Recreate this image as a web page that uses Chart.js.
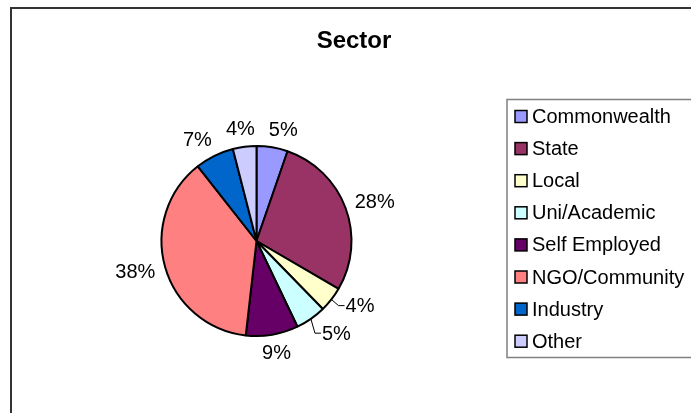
<!DOCTYPE html>
<html>
<head>
<meta charset="utf-8">
<script src="https://cdn.jsdelivr.net/npm/chart.js@4"></script>
<style>
  html, body { margin: 0; padding: 0; background: #fff; }
  canvas { display: block; }
</style>
</head>
<body>
<canvas id="sectorChart" width="691" height="413"></canvas>
<script>
/*************************************************
 * DATA
 *************************************************/
const chartTitle = "Sector";

const categories = [
  "Commonwealth",
  "State",
  "Local",
  "Uni/Academic",
  "Self Employed",
  "NGO/Community",
  "Industry",
  "Other"
];

// share of respondents, %
const shares = [5.3, 28.1, 4.3, 5.2, 8.9, 37.6, 6.6, 4.0];

const sliceColors = [
  "#9999ff",
  "#993366",
  "#ffffcc",
  "#ccffff",
  "#660066",
  "#ff8080",
  "#0066cc",
  "#ccccff"
];

const FONT = "'Liberation Sans', Arial, sans-serif";


/*************************************************
 * FRAME + TITLE
 *************************************************/
const framePlugin = {
  id: "frame",
  beforeDraw(chart) {
    const ctx = chart.ctx;
    ctx.save();
    ctx.fillStyle = "#fff";
    ctx.fillRect(0, 0, chart.width, chart.height);

    // outer chart border (right/bottom run off the picture)
    ctx.strokeStyle = "#333";
    ctx.lineWidth = 2;
    ctx.beginPath();
    ctx.moveTo(11, chart.height + 5);
    ctx.lineTo(11, 8);
    ctx.lineTo(chart.width + 5, 8);
    ctx.stroke();

    ctx.fillStyle = "#000";
    ctx.font = "bold 24px " + FONT;
    ctx.textAlign = "center";
    ctx.textBaseline = "alphabetic";
    ctx.fillText(chartTitle, 354, 48);
    ctx.restore();
  }
};


/*************************************************
 * LEGEND (boxed, right side)
 *************************************************/
const boxLegendPlugin = {
  id: "boxLegend",
  afterDraw(chart) {
    const ctx = chart.ctx;
    const labels = chart.data.labels;
    const colors = chart.data.datasets[0].backgroundColor;
    ctx.save();

    ctx.strokeStyle = "#808080";
    ctx.lineWidth = 1.5;
    ctx.strokeRect(507, 99.5, 220, 258);

    ctx.font = "20px " + FONT;
    ctx.textAlign = "left";
    ctx.textBaseline = "middle";
    labels.forEach((label, i) => {
      const y = 116.5 + i * 32.1;
      ctx.fillStyle = colors[i];
      ctx.fillRect(515, y - 6, 12, 12);
      ctx.strokeStyle = "#000";
      ctx.lineWidth = 1.5;
      ctx.strokeRect(515, y - 6, 12, 12);
      ctx.fillStyle = "#000";
      ctx.fillText(label, 532, y + 1);
    });
    ctx.restore();
  }
};


/*************************************************
 * PERCENT LABELS (outside, leader lines for small lower slices)
 *************************************************/
const percentLabelPlugin = {
  id: "percentLabels",
  afterDatasetsDraw(chart) {
    const ctx = chart.ctx;
    const arcs = chart.getDatasetMeta(0).data;
    const values = chart.data.datasets[0].data;
    const total = values.reduce((a, b) => a + b, 0);
    const h = 14;

    ctx.save();
    ctx.font = "20px " + FONT;
    ctx.fillStyle = "#000";
    ctx.strokeStyle = "#000";
    ctx.lineWidth = 1;

    const plain = [];
    const leadered = [];

    arcs.forEach((arc, i) => {
      const {x, y, startAngle, endAngle, outerRadius} = arc.getProps(
        ["x", "y", "startAngle", "endAngle", "outerRadius"], true);
      const mid = (startAngle + endAngle) / 2;
      const cos = Math.cos(mid);
      const sin = Math.sin(mid);
      const text = Math.round(values[i] / total * 100) + "%";
      const w = ctx.measureText(text).width;

      const fromTop = ((mid + Math.PI / 2) * 180 / Math.PI + 360) % 360;
      const needsLeader = values[i] / total < 0.06 && fromTop > 100 && fromTop < 170;

      if (needsLeader) {
        // text set a little off the slice direction, linked by a leader
        const a = mid - 6 * Math.PI / 180;
        leadered.push({
          text, w,
          sx: x + outerRadius * cos,
          sy: y + outerRadius * sin,
          cx: x + (outerRadius + 27) * Math.cos(a),
          cy: y + (outerRadius + 27) * Math.sin(a)
        });
      } else {
        const gap = 11;
        plain.push({
          text, w,
          cx: x + (outerRadius + gap) * cos + cos * w / 2,
          cy: y + (outerRadius + gap) * sin + sin * h / 2
        });
      }
    });

    // push neighbouring labels apart sideways so they keep some air between them
    const minGap = 14;
    for (let pass = 0; pass < 6; pass++) {
      for (let i = 0; i < plain.length; i++) {
        for (let j = i + 1; j < plain.length; j++) {
          const a = plain[i], b = plain[j];
          if (Math.abs(a.cy - b.cy) > h) continue;
          const left = a.cx < b.cx ? a : b;
          const right = left === a ? b : a;
          const space = (right.cx - right.w / 2) - (left.cx + left.w / 2);
          if (space < minGap) {
            const push = (minGap - space) / 2;
            left.cx -= push;
            right.cx += push;
          }
        }
      }
    }

    ctx.textAlign = "center";
    ctx.textBaseline = "middle";
    plain.forEach(l => ctx.fillText(l.text, l.cx, l.cy + 1));

    leadered.forEach(l => {
      const textLeft = l.cx - l.w / 2;
      ctx.beginPath();
      ctx.moveTo(l.sx, l.sy);
      ctx.lineTo(textLeft - 7, l.cy);
      ctx.lineTo(textLeft - 1, l.cy);
      ctx.stroke();
      ctx.fillText(l.text, l.cx, l.cy + 1);
    });
    ctx.restore();
  }
};


/*************************************************
 * PIE CHART
 *************************************************/
const sectorCtx = document.getElementById("sectorChart").getContext("2d");

const sectorChart = new Chart(sectorCtx, {
  type: "pie",
  data: {
    labels: categories,
    datasets: [{
      data: shares,
      backgroundColor: sliceColors,
      borderColor: "#000",
      borderWidth: 2,
      hoverOffset: 0
    }]
  },
  options: {
    responsive: false,
    animation: false,
    events: [],
    layout: {
      padding: { left: 160.5, right: 338.5, top: 145, bottom: 76 }
    },
    plugins: {
      legend: { display: false },
      title: { display: false },
      tooltip: { enabled: false }
    }
  },
  plugins: [framePlugin, percentLabelPlugin, boxLegendPlugin]
});
</script>
</body>
</html>
